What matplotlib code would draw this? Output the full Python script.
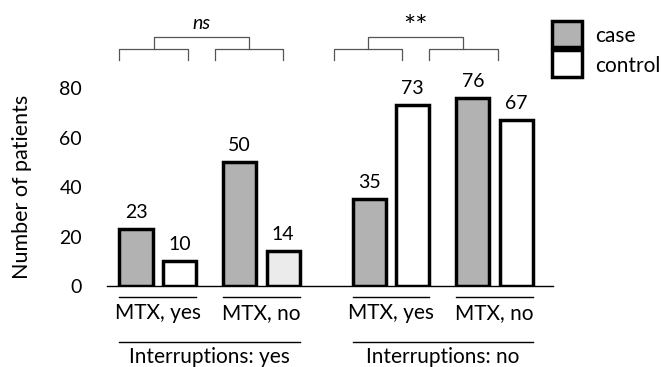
import numpy as np
import matplotlib.pyplot as plt
from matplotlib.patches import Rectangle

plt.rcParams["font.family"] = ["Lato", "DejaVu Sans"]

# data
mtx_labels = ["MTX, yes", "MTX, no", "MTX, yes", "MTX, no"]
group_labels = ["Interruptions: yes", "Interruptions: no"]
case_vals = [23, 50, 35, 76]
control_vals = [10, 14, 73, 67]
control_colors = ["white", "#ebebeb", "white", "white"]
sig_labels = ["ns", "**"]

pos = np.array([0, 1, 2.25, 3.25])
w = 0.32
off = 0.21
gray = "#b2b2b2"
fs = 15

fig = plt.figure(figsize=(6.66, 3.67), dpi=100)
ax = fig.add_axes([0.1607, 0.2207, 0.6697, 0.5395])

ax.bar(pos - off, case_vals, w, color=gray, edgecolor="black", linewidth=2.5, zorder=2)
ax.bar(pos + off, control_vals, w, color=control_colors, edgecolor="black", linewidth=2.5, zorder=2)

for x, v in zip(pos - off, case_vals):
    ax.text(x, v + 4.4, str(v), ha="center", va="baseline", fontsize=14)
for x, v in zip(pos + off, control_vals):
    ax.text(x, v + 4.4, str(v), ha="center", va="baseline", fontsize=14)

ax.set_xlim(-0.49, 3.815)
ax.set_ylim(0, 80)
ax.set_yticks([0, 20, 40, 60, 80])
ax.set_xticks([])
ax.tick_params(axis="y", length=0, pad=18, labelsize=14)
for s in ["top", "right", "left"]:
    ax.spines[s].set_visible(False)
ax.spines["bottom"].set_linewidth(1)
ax.set_ylabel("Number of patients", fontsize=15.5)
ax.yaxis.set_label_coords(-0.168, 0.5)

tr = ax.get_xaxis_transform()

# MTX labels with underline
for x, lab in zip(pos, mtx_labels):
    ax.plot([x - off - w / 2, x + off + w / 2], [-0.056, -0.056], color="black", lw=1, transform=tr, clip_on=False)
    ax.text(x, -0.167, lab, ha="center", va="baseline", fontsize=fs, transform=tr)

# interruption group labels with line
for i, lab in enumerate(group_labels):
    a, b = pos[2 * i], pos[2 * i + 1]
    ax.plot([a - off - w / 2, b + off + w / 2], [-0.283, -0.283], color="black", lw=1, transform=tr, clip_on=False)
    ax.text((a + b) / 2, -0.389, lab, ha="center", va="baseline", fontsize=fs, transform=tr)

# significance brackets
bc = 0.92 * pos - 0.04
bh = 0.33
for i, lab in enumerate(sig_labels):
    mids = []
    for j in (2 * i, 2 * i + 1):
        l, r = bc[j] - bh, bc[j] + bh
        ax.plot([l, l, r, r], [1.141, 1.197, 1.197, 1.141], color="#555555", lw=0.9, transform=tr, clip_on=False)
        mids.append(bc[j])
    ax.plot([mids[0], mids[0], mids[1], mids[1]], [1.197, 1.258, 1.258, 1.197], color="#555555", lw=0.9, transform=tr, clip_on=False)
    if lab == "ns":
        ax.text(np.mean(mids), 1.298, lab, ha="center", va="baseline", fontsize=14, style="italic", transform=tr)
    else:
        ax.text(np.mean(mids), 1.263, lab, ha="center", va="baseline", fontsize=21, transform=tr)

# legend drawn by hand
fw, fh = 666, 367
fig.patches.append(Rectangle((552 / fw, 1 - 47 / fh), 30 / fw, 26 / fh, transform=fig.transFigure,
                             facecolor=gray, edgecolor="black", linewidth=2.5))
fig.patches.append(Rectangle((552 / fw, 1 - 77 / fh), 30 / fw, 27 / fh, transform=fig.transFigure,
                             facecolor="white", edgecolor="black", linewidth=2.5))
fig.text(595 / fw, 1 - 42 / fh, "case", ha="left", va="baseline", fontsize=fs)
fig.text(595 / fw, 1 - 72 / fh, "control", ha="left", va="baseline", fontsize=fs)

fig.savefig("out.png", dpi=100)
